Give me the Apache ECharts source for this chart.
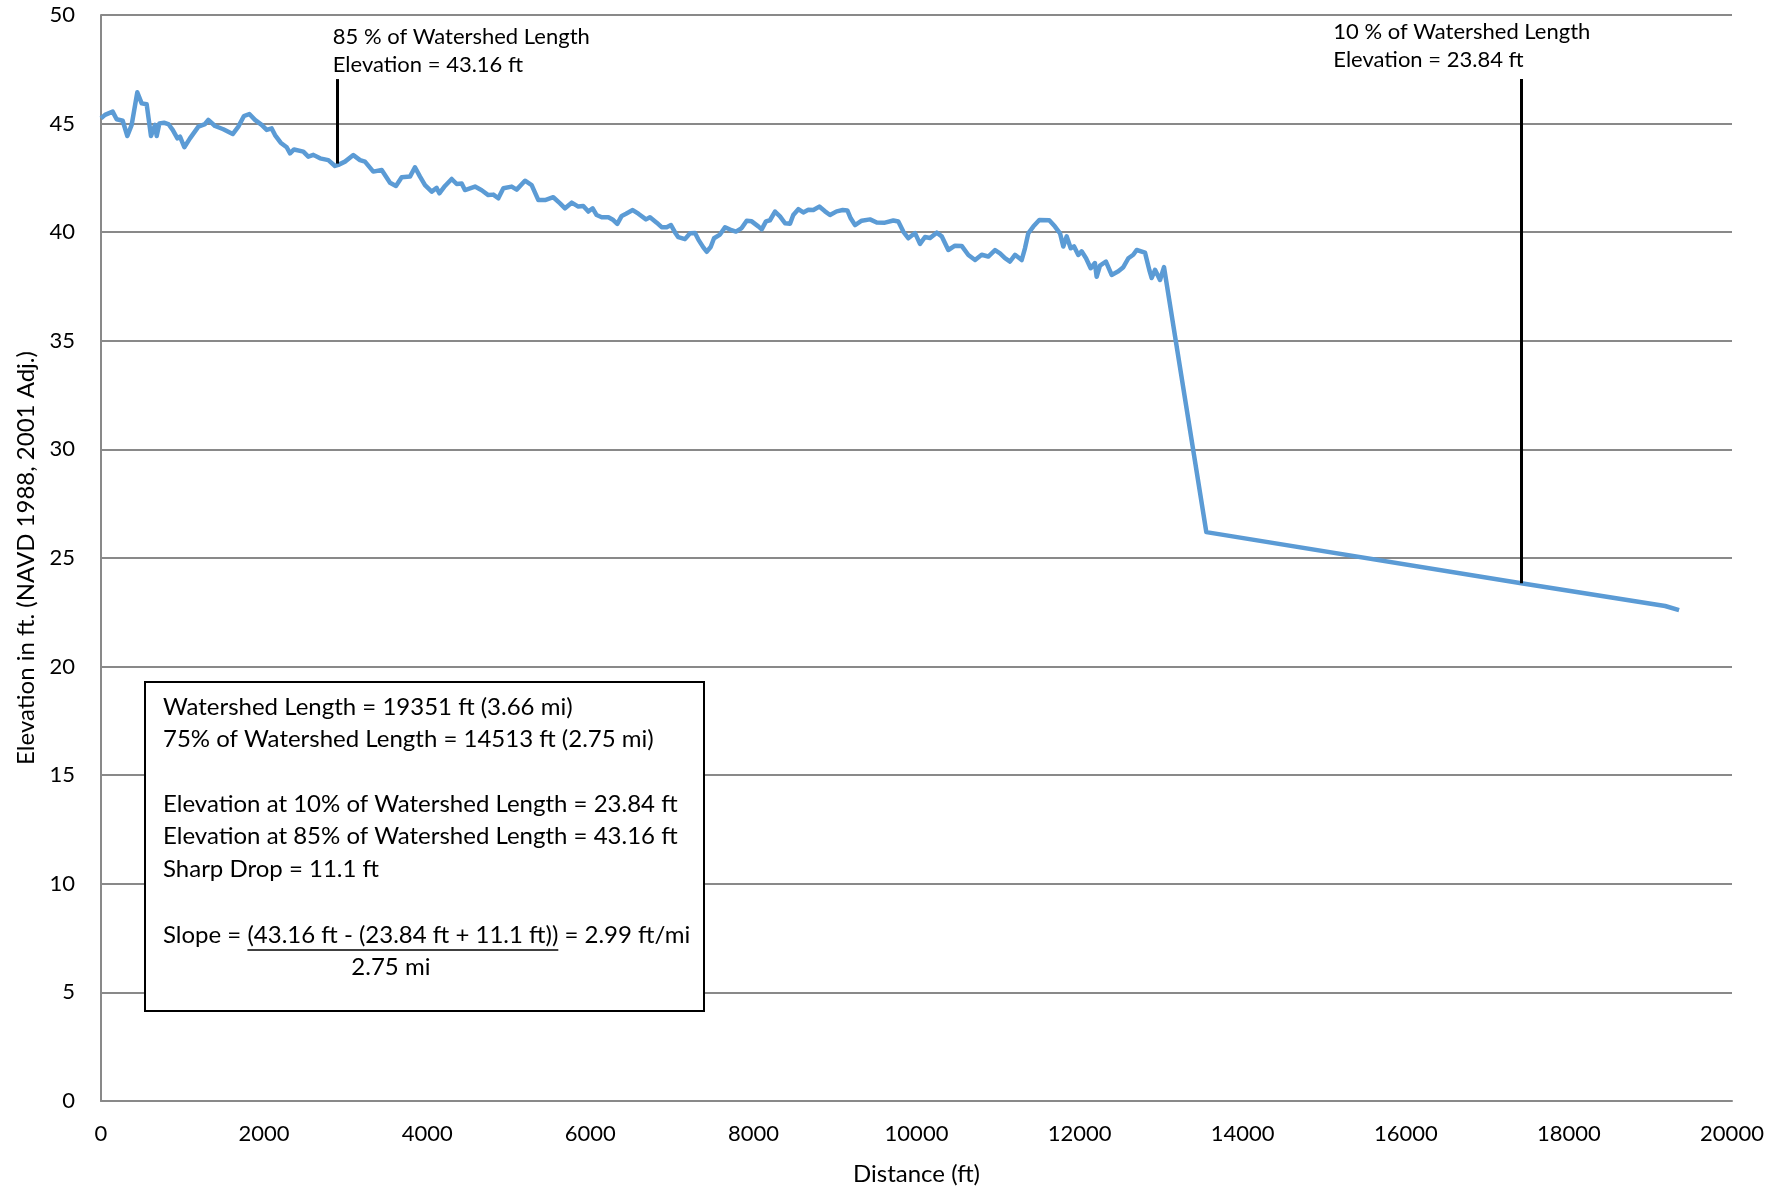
<!DOCTYPE html>
<html>
<head>
<meta charset="utf-8">
<script src="https://cdn.jsdelivr.net/npm/echarts@6/dist/echarts.min.js"></script>
<style>
html,body{margin:0;padding:0;background:#fff;}
#chart{width:1788px;height:1191px;}
</style>
</head>
<body>
<div id="chart"></div>
<script>
// ---- Data ----
const distanceFt = [0,49,143,192,266,323,376,445,499,560,613,662,683,716,773,826,879,937,969,1022,1091,1194,1275,1316,1398,1500,1615,1684,1753,1819,1888,1970,2032,2093,2134,2203,2277,2318,2367,2481,2542,2604,2686,2788,2869,2910,2992,3094,3176,3237,3339,3442,3544,3617,3687,3789,3850,3912,3973,4055,4116,4149,4218,4300,4362,4423,4463,4586,4668,4749,4811,4872,4934,5036,5097,5199,5281,5363,5445,5546,5629,5690,5772,5853,5914,5976,6029,6078,6140,6222,6282,6331,6385,6438,6520,6589,6683,6732,6814,6875,6937,6989,7039,7079,7161,7223,7284,7325,7386,7427,7476,7517,7590,7652,7713,7786,7856,7918,7979,8060,8102,8154,8203,8265,8326,8388,8449,8489,8551,8612,8673,8735,8808,8878,8939,9021,9095,9152,9193,9246,9328,9430,9512,9613,9716,9777,9838,9899,9982,10043,10104,10166,10248,10309,10390,10472,10554,10636,10718,10799,10880,10963,11024,11085,11147,11208,11290,11330,11371,11432,11506,11628,11698,11760,11800,11841,11891,11931,11984,12025,12079,12136,12188,12209,12250,12323,12393,12475,12536,12598,12658,12700,12802,12855,12884,12925,12986,13035,13554,17416,19180,19351];
const elevationFt = [45.24,45.4,45.55,45.2,45.13,44.43,44.94,46.44,45.93,45.89,44.43,44.94,44.43,45.01,45.04,44.98,44.71,44.32,44.4,43.91,44.32,44.86,44.98,45.17,44.89,44.74,44.52,44.86,45.35,45.44,45.17,44.94,44.71,44.78,44.47,44.12,43.91,43.63,43.81,43.71,43.48,43.56,43.4,43.32,43.05,43.1,43.25,43.55,43.32,43.25,42.79,42.86,42.28,42.13,42.53,42.56,42.99,42.56,42.17,41.87,42.04,41.79,42.13,42.45,42.22,42.24,41.94,42.1,41.93,41.71,41.73,41.56,42.02,42.1,41.96,42.37,42.17,41.48,41.48,41.61,41.33,41.1,41.36,41.18,41.21,40.95,41.1,40.79,40.69,40.69,40.56,40.38,40.75,40.85,41.02,40.85,40.59,40.69,40.44,40.23,40.23,40.33,39.99,39.77,39.68,39.95,39.96,39.66,39.3,39.1,39.32,39.72,39.89,40.23,40.12,40.03,40.19,40.53,40.5,40.27,40.13,40.5,40.55,40.95,40.73,40.41,40.39,40.79,41.06,40.91,41.03,41.02,41.18,40.96,40.79,40.96,41.02,41.0,40.64,40.33,40.53,40.59,40.45,40.44,40.54,40.49,40.03,39.72,39.96,39.46,39.78,39.73,39.98,39.81,39.18,39.38,39.37,38.95,38.72,38.96,38.88,39.18,39.03,38.81,38.65,38.96,38.72,39.26,39.95,40.26,40.56,40.55,40.26,39.95,39.34,39.81,39.26,39.35,38.95,39.12,38.8,38.34,38.58,37.95,38.46,38.65,38.03,38.2,38.39,38.8,38.96,39.18,39.06,38.26,37.89,38.27,37.8,38.39,26.19,23.84,22.79,22.6];

// Marker lines (85 % and 10 % of watershed length)
const markerDistance = [2903, 17416];
const markerElevation = [43.16, 23.84];
const markerTop = 47.05;
const markerLabels = [
  ['85 % of Watershed Length', 'Elevation = 43.16 ft'],
  ['10 % of Watershed Length', 'Elevation = 23.84 ft']
];

// Axis settings
const xMin = 0, xMax = 20000, xStep = 2000;
const yMin = 0, yMax = 50, yStep = 5;

// Info box text
const boxLines = [
  'Watershed Length = 19351 ft (3.66 mi)',
  '75% of Watershed Length = 14513 ft (2.75 mi)',
  '',
  'Elevation at 10% of Watershed Length = 23.84 ft',
  'Elevation at 85% of Watershed Length = 43.16 ft',
  'Sharp Drop = 11.1 ft'
];
const slopePre = 'Slope = ';
const slopeNum = '(43.16 ft - (23.84 ft + 11.1 ft))';
const slopePost = ' = 2.99 ft/mi';
const slopeDen = '2.75 mi';

// ---- Chart ----
const FONT = 'Lato, "Noto Sans", sans-serif';
const GRAY = '#898989';
const chart = echarts.init(document.getElementById('chart'), null, {renderer: 'canvas'});

const profile = distanceFt.map((d, i) => [d, elevationFt[i]]);

const option = {
  animation: false,
  backgroundColor: '#ffffff',
  grid: {left: 101, right: 56, top: 15, bottom: 90, containLabel: false, outerBoundsMode: 'none'},
  xAxis: {
    type: 'value', min: xMin, max: xMax, interval: xStep,
    name: 'Distance (ft)', nameLocation: 'middle', nameGap: 61,
    nameTextStyle: {color: '#000', fontSize: 24, fontFamily: FONT},
    axisLine: {show: true, lineStyle: {color: GRAY, width: 2}},
    axisTick: {show: false},
    splitLine: {show: false},
    axisLabel: {color: '#000', fontSize: 22, fontFamily: FONT, margin: 22, showMinLabel: true, showMaxLabel: true,
      formatter: v => String(v)}
  },
  yAxis: {
    type: 'value', min: yMin, max: yMax, interval: yStep,
    name: 'Elevation in ft. (NAVD 1988, 2001 Adj.)', nameLocation: 'middle', nameGap: 62,
    nameTextStyle: {color: '#000', fontSize: 24, fontFamily: FONT},
    axisLine: {show: true, lineStyle: {color: GRAY, width: 2}},
    axisTick: {show: false},
    splitLine: {show: true, lineStyle: {color: GRAY, width: 2}},
    axisLabel: {color: '#000', fontSize: 22, fontFamily: FONT, margin: 26, formatter: v => String(v)}
  },
  series: [{
    type: 'line',
    data: profile,
    showSymbol: false,
    symbol: 'none',
    lineStyle: {color: '#5B9BD5', width: 4.5, join: 'round'},
    z: 3,
    markLine: {
      silent: true,
      symbol: ['none', 'none'],
      label: {show: false},
      lineStyle: {color: '#000', width: 3, type: 'solid'},
      data: markerDistance.map((d, i) => [
        {coord: [d, markerElevation[i]]},
        {coord: [d, markerTop]}
      ])
    }
  }]
};
chart.setOption(option);

// ---- Annotations (anchored to data coordinates) ----
function px(pt) { return chart.convertToPixel({gridIndex: 0}, pt); }
const ctx = document.createElement('canvas').getContext('2d');
function textW(s, size) { ctx.font = size + 'px ' + FONT; return ctx.measureText(s).width; }

const graphics = [];
const annSize = 22;
const annOffsets = [[-5, -53], [-188, -58]]; // text block offset from top of marker line
markerDistance.forEach((d, i) => {
  const p = px([d, markerTop]);
  markerLabels[i].forEach((t, j) => {
    graphics.push({
      type: 'text', left: p[0] + annOffsets[i][0], top: p[1] + annOffsets[i][1] + j * 28,
      style: {text: t, fill: '#000', font: annSize + 'px ' + FONT}
    });
  });
});

// Info box
const boxL = 144, boxT = 681, boxW = 559, boxH = 329;
const bSize = 24;
graphics.push({
  type: 'rect', left: boxL, top: boxT,
  shape: {width: boxW, height: boxH},
  style: {fill: '#fff', stroke: '#000', lineWidth: 2}, z: 10
});
const lineCenters = [29, 61, 0, 126, 158, 191];
boxLines.forEach((t, i) => {
  if (!t) return;
  graphics.push({
    type: 'text', left: boxL + 19, top: boxT + lineCenters[i] - bSize * 0.62, z: 11,
    style: {text: t, fill: '#000', font: bSize + 'px ' + FONT}
  });
});
const sx0 = boxL + 19;
const slopeY = boxT + 257 - bSize * 0.62;
const wPre = textW(slopePre, bSize), wNum = textW(slopeNum, bSize);
graphics.push({type: 'text', left: sx0, top: slopeY, z: 11, style: {text: slopePre, fill: '#000', font: bSize + 'px ' + FONT}});
graphics.push({type: 'text', left: sx0 + wPre, top: slopeY, z: 11, style: {text: slopeNum, fill: '#000', font: bSize + 'px ' + FONT}});
graphics.push({type: 'text', left: sx0 + wPre + wNum, top: slopeY, z: 11, style: {text: slopePost, fill: '#000', font: bSize + 'px ' + FONT}});
graphics.push({type: 'line', z: 11, shape: {x1: sx0 + wPre, y1: boxT + 269, x2: sx0 + wPre + wNum, y2: boxT + 269}, style: {stroke: '#000', lineWidth: 1.5}});
const wDen = textW(slopeDen, bSize);
graphics.push({type: 'text', left: sx0 + wPre + wNum / 2 - wDen / 2 - 12, top: boxT + 289 - bSize * 0.62, z: 11, style: {text: slopeDen, fill: '#000', font: bSize + 'px ' + FONT}});

chart.setOption({graphic: graphics});
</script>
</body>
</html>
